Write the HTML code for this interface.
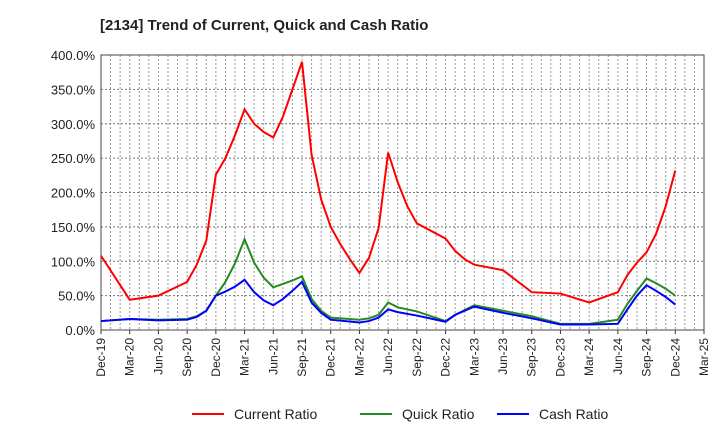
<!DOCTYPE html>
<html><head><meta charset="utf-8"><style>
body{margin:0;background:#fff;font-family:"Liberation Sans",sans-serif;}
</style></head><body>
<svg width="720" height="440" xmlns="http://www.w3.org/2000/svg">
<g id="root"></g>
</svg>
<script>
const monthIdx=[0,3,6,9,10,11,12,13,14,15,16,17,18,19,20,21,22,23,24,25,26,27,28,29,30,31,32,33,36,37,38,39,42,45,48,51,54,55,56,57,58,59,60];
const currentRatio=[108,44,50,70,95,130,226,250,283,321,300,288,280,310,350,390,255,190,150,125,103,83,105,148,258,215,180,155,133,115,103,95,87,55,53,40,55,80,98,113,140,180,232];
const quickIdx=[0,3,6,9,10,11,12,13,14,15,16,17,18,19,20,21,22,23,24,27,28,29,30,31,33,36,37,39,42,45,48,51,54,55,56,57,58,59,60];
const quickRatio=[13,16,15,16,20,28,50,70,97,132,98,76,62,67,72,78,45,28,18,15,17,22,40,33,27,13,22,36,28,20,9,9,15,38,57,75,68,60,50];
const cashRatio=[13,16,14,15,19,28,50,56,63,73,55,43,36,45,57,70,40,25,15,11,13,18,30,26,21,12,22,34,25,17,8,8,9,30,50,65,57,48,37];
const xTicks=["Dec-19","Mar-20","Jun-20","Sep-20","Dec-20","Mar-21","Jun-21","Sep-21","Dec-21","Mar-22","Jun-22","Sep-22","Dec-22","Mar-23","Jun-23","Sep-23","Dec-23","Mar-24","Jun-24","Sep-24","Dec-24","Mar-25"];
const yTicks=[0,50,100,150,200,250,300,350,400];
const L=101,R=704,T=55,B=330;
const xs=m=>L+m*(R-L)/63, ys=v=>B-v*(B-T)/400;
const NS="http://www.w3.org/2000/svg",root=document.getElementById('root');
function mk(t,a,p){const e=document.createElementNS(NS,t);for(const k in a)e.setAttribute(k,a[k]);(p||root).appendChild(e);return e;}
let g=mk('g',{});


for(let m=1;m<63;m++)mk('line',{x1:xs(m),x2:xs(m),y1:T,y2:B,stroke:'#999','stroke-dasharray':'2,2','stroke-width':1},g);
yTicks.forEach(v=>{if(v>0&&v<400)mk('line',{x1:L,x2:R,y1:ys(v),y2:ys(v),stroke:'#777','stroke-dasharray':'2,2','stroke-width':1},g);
const t=mk('text',{x:L-6,y:ys(v)+5,'text-anchor':'end','font-size':13,fill:'#222'});t.textContent=v.toFixed(1)+'%';
});
xTicks.forEach((s,i)=>{const x=xs(i*3);mk('line',{x1:x,x2:x,y1:B,y2:B+4,stroke:'#333'});
const t=mk('text',{x:0,y:0,transform:`translate(${x+4},${B+8}) rotate(-90)`,'text-anchor':'end','font-size':12,fill:'#222'});t.textContent=s;
});
const fr=mk('rect',{x:L,y:T,width:R-L,height:B-T,fill:'none',stroke:'#444','stroke-width':1});

function series(idx,vals,col,name){const p=mk('polyline',{points:idx.map((m,i)=>xs(m)+','+ys(vals[i])).join(' '),fill:'none',stroke:col,'stroke-width':2});
}
series(monthIdx,currentRatio,'#f00','current-ratio-line');
series(quickIdx,quickRatio,'#228b22','quick-ratio-line');
series(quickIdx,cashRatio,'#00f','cash-ratio-line');
const tt=mk('text',{x:100,y:30,'font-size':15,'font-weight':'bold',fill:'#222'});tt.textContent='[2134]  Trend of Current, Quick and Cash Ratio';

[['Current Ratio','#f00',192],['Quick Ratio','#228b22',360],['Cash Ratio','#00f',497]].forEach(([n,c,x])=>{
const lg=mk('g',{});
mk('line',{x1:x,x2:x+32,y1:414,y2:414,stroke:c,'stroke-width':2},lg);
const t=mk('text',{x:x+42,y:419,'font-size':14,fill:'#222'},lg);t.textContent=n;});
</script>
</body></html>
